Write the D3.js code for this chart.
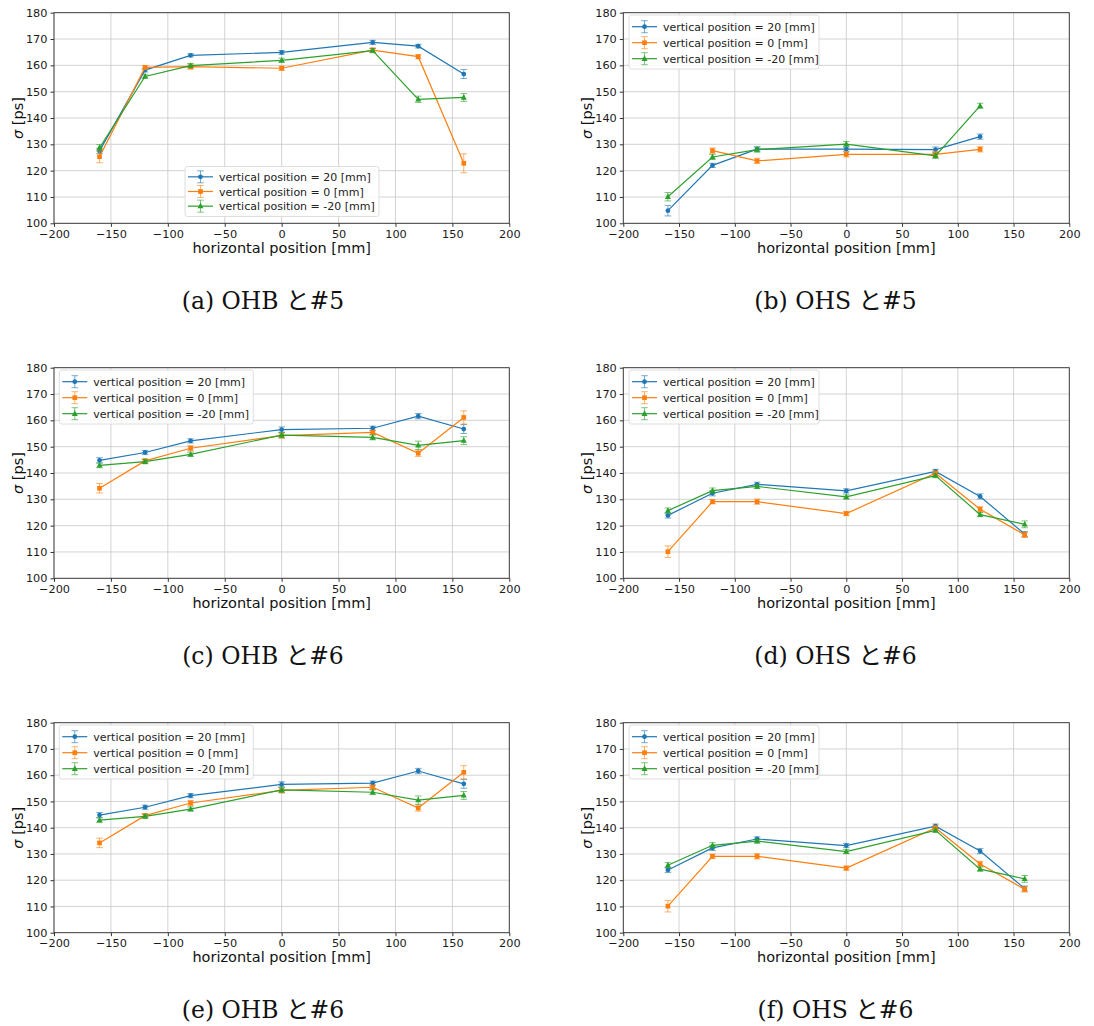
<!DOCTYPE html>
<html>
<head>
<meta charset="utf-8">
<script src="https://cdn.jsdelivr.net/npm/d3@7"></script>
<style>
  html, body { margin: 0; padding: 0; background: #fff; }
  svg { display: block; }
</style>
</head>
<body>
<script>
// Horizontal scan positions [mm]
const xPositions = [-160, -120, -80, 0, 80, 120, 160];
const xTicks = [-200, -150, -100, -50, 0, 50, 100, 150, 200];
const yTicks = [100, 110, 120, 130, 140, 150, 160, 170, 180];
const seriesNames = ["vertical position = 20 [mm]", "vertical position = 0 [mm]", "vertical position = -20 [mm]"];
const seriesColors = ["#1f77b4", "#ff7f0e", "#2ca02c"];
const seriesMarkers = ["circle", "square", "triangle"];

// (a) OHB と #5 : time resolution sigma [ps] and its error
const ohb5Up = [127.5, 158.2, 163.8, 164.9, 168.7, 167.3, 156.7];
const ohb5UpErr = [1.0, 0.7, 0.6, 0.7, 0.8, 0.7, 1.7];
const ohb5Mid = [125.3, 159.2, 159.5, 158.9, 165.8, 163.3, 122.8];
const ohb5MidErr = [2.3, 0.7, 1.0, 0.8, 0.8, 0.8, 3.6];
const ohb5Low = [128.7, 155.8, 159.9, 161.9, 165.6, 147.1, 147.8];
const ohb5LowErr = [1.2, 0.8, 0.8, 0.8, 0.8, 1.2, 1.5];

// (b) OHS と #5
const ohs5Up = [104.8, 122.0, 128.2, 128.2, 128.0, 132.9, null];
const ohs5UpErr = [2.0, 0.8, 0.8, 0.8, 1.0, 1.0, null];
const ohs5Mid = [null, 127.6, 123.7, 126.2, 126.2, 128.1, null];
const ohs5MidErr = [null, 1.0, 1.0, 1.0, 1.0, 1.0, null];
const ohs5Low = [110.1, 125.2, 128.0, 130.1, 125.6, 144.6, null];
const ohs5LowErr = [1.6, 1.0, 1.0, 1.0, 1.0, 1.0, null];

// (c), (e) OHB と #6
const ohb6Up = [144.8, 147.8, 152.2, 156.5, 157.0, 161.6, 156.7];
const ohb6UpErr = [1.0, 0.8, 0.8, 1.0, 0.8, 1.0, 1.7];
const ohb6Mid = [134.2, 144.6, 149.4, 154.2, 155.4, 147.5, 161.1];
const ohb6MidErr = [1.8, 0.8, 1.0, 1.0, 0.8, 1.2, 2.5];
const ohb6Low = [142.9, 144.3, 147.1, 154.4, 153.5, 150.5, 152.3];
const ohb6LowErr = [0.9, 0.8, 0.8, 1.0, 0.9, 1.6, 1.5];

// (d), (f) OHS と #6
const ohs6Up = [123.9, 132.3, 135.7, 133.2, 140.6, 131.1, 116.8];
const ohs6UpErr = [1.0, 1.0, 0.8, 0.8, 0.8, 1.0, 1.0];
const ohs6Mid = [110.1, 129.1, 129.1, 124.6, 139.9, 126.2, 116.5];
const ohs6MidErr = [2.2, 0.8, 1.0, 0.8, 0.8, 1.0, 1.0];
const ohs6Low = [125.7, 133.3, 134.9, 130.9, 139.0, 124.2, 120.5];
const ohs6LowErr = [1.0, 1.0, 0.8, 0.8, 0.8, 0.8, 1.3];

const captions = ["(a) OHB と#5", "(b) OHS と#5", "(c) OHB と#6", "(d) OHS と#6", "(e) OHB と#6", "(f) OHS と#6"];

const dataSets = [
  [[ohb5Up, ohb5UpErr], [ohb5Mid, ohb5MidErr], [ohb5Low, ohb5LowErr]],
  [[ohs5Up, ohs5UpErr], [ohs5Mid, ohs5MidErr], [ohs5Low, ohs5LowErr]],
  [[ohb6Up, ohb6UpErr], [ohb6Mid, ohb6MidErr], [ohb6Low, ohb6LowErr]],
  [[ohs6Up, ohs6UpErr], [ohs6Mid, ohs6MidErr], [ohs6Low, ohs6LowErr]],
  [[ohb6Up, ohb6UpErr], [ohb6Mid, ohb6MidErr], [ohb6Low, ohb6LowErr]],
  [[ohs6Up, ohs6UpErr], [ohs6Mid, ohs6MidErr], [ohs6Low, ohs6LowErr]]
];

// Panel geometry
const layouts = [
  { left: 54,    right: 509.3,  top: 12.7,  bottom: 223.3, legend: { x: 185,   y: 166.5, w: 194, h: 50 }, cap: { x: 263, y: 309 } },
  { left: 623.3, right: 1069.3, top: 12.7,  bottom: 223.3, legend: { x: 629,   y: 15,    w: 190, h: 54 }, cap: { x: 835.5, y: 309 } },
  { left: 54,    right: 509.3,  top: 367.7, bottom: 578.3, legend: { x: 59.3,  y: 370,   w: 194, h: 54 }, cap: { x: 263, y: 664 } },
  { left: 623.3, right: 1069.3, top: 367.7, bottom: 578.3, legend: { x: 629,   y: 370,   w: 190, h: 54 }, cap: { x: 835.5, y: 664 } },
  { left: 54,    right: 509.3,  top: 722.7, bottom: 932.7, legend: { x: 59.3,  y: 725,   w: 194, h: 54 }, cap: { x: 263, y: 1018 } },
  { left: 623.3, right: 1069.3, top: 722.7, bottom: 932.7, legend: { x: 629,   y: 725,   w: 190, h: 54 }, cap: { x: 835.5, y: 1018 } }
];

const W = 1094, H = 1026;
const svg = d3.select("body").append("svg").attr("width", W).attr("height", H)
  .style("font-family", "'DejaVu Sans', sans-serif");

function markerPath(type) {
  if (type === "circle") return d3.symbol(d3.symbolCircle, 18)();
  if (type === "square") return d3.symbol(d3.symbolSquare, 22)();
  return "M0,-3.4L3,2.2L-3,2.2Z";
}

const fmt = v => (v < 0 ? "\u2212" + Math.abs(v) : String(v));

layouts.forEach((L, pi) => {
  const g = svg.append("g");
  const x = d3.scaleLinear().domain([-200, 200]).range([L.left, L.right]);
  const y = d3.scaleLinear().domain([100, 180]).range([L.bottom, L.top]);

  // grid
  g.append("g").selectAll("line").data(xTicks).join("line")
    .attr("x1", d => x(d)).attr("x2", d => x(d)).attr("y1", L.top).attr("y2", L.bottom)
    .attr("stroke", "#c8c8c8").attr("stroke-width", 0.8);
  g.append("g").selectAll("line").data(yTicks).join("line")
    .attr("y1", d => y(d)).attr("y2", d => y(d)).attr("x1", L.left).attr("x2", L.right)
    .attr("stroke", "#c8c8c8").attr("stroke-width", 0.8);

  // axes
  const xAxis = d3.axisBottom(x).tickValues(xTicks).tickFormat(fmt).tickSizeOuter(0).tickSize(3.5).tickPadding(3);
  const yAxis = d3.axisLeft(y).tickValues(yTicks).tickSizeOuter(0).tickSize(3.5).tickPadding(3);
  const gx = g.append("g").attr("transform", `translate(0,${L.bottom})`).call(xAxis);
  const gy = g.append("g").attr("transform", `translate(${L.left},0)`).call(yAxis);
  [gx, gy].forEach(a => {
    a.select(".domain").remove();
    a.selectAll("text").attr("font-size", 11.3).attr("fill", "#1a1a1a").style("font-family", "'DejaVu Sans', sans-serif");
    a.selectAll("line").attr("stroke", "#333");
  });

  // frame
  g.append("rect").attr("x", L.left).attr("y", L.top)
    .attr("width", L.right - L.left).attr("height", L.bottom - L.top)
    .attr("fill", "none").attr("stroke", "#333").attr("stroke-width", 0.9);

  // axis labels
  g.append("text").attr("x", (L.left + L.right) / 2).attr("y", L.bottom + 29.5)
    .attr("text-anchor", "middle").attr("font-size", 14.5).attr("fill", "#111")
    .text("horizontal position [mm]");
  const yl = g.append("text")
    .attr("transform", `translate(${L.left - 31},${(L.top + L.bottom) / 2}) rotate(-90)`)
    .attr("text-anchor", "middle").attr("font-size", 14.5).attr("fill", "#111");
  yl.append("tspan").attr("font-style", "italic").text("σ");
  yl.append("tspan").text(" [ps]");

  // series
  dataSets[pi].forEach((s, si) => {
    const [vals, errs] = s;
    const pts = xPositions.map((xv, i) => ({ x: xv, v: vals[i], e: errs[i] })).filter(d => d.v != null);
    const col = seriesColors[si];
    const sg = g.append("g");
    const eg = sg.append("g").attr("stroke", col).attr("stroke-width", 1).attr("stroke-opacity", 0.6);
    pts.forEach(d => {
      const cx = x(d.x), y1 = y(d.v - d.e), y2 = y(d.v + d.e);
      eg.append("line").attr("x1", cx).attr("x2", cx).attr("y1", y1).attr("y2", y2);
      eg.append("line").attr("x1", cx - 3.3).attr("x2", cx + 3.3).attr("y1", y1).attr("y2", y1);
      eg.append("line").attr("x1", cx - 3.3).attr("x2", cx + 3.3).attr("y1", y2).attr("y2", y2);
    });
    sg.append("path").datum(pts)
      .attr("d", d3.line().x(d => x(d.x)).y(d => y(d.v)))
      .attr("fill", "none").attr("stroke", col).attr("stroke-width", 1.2);
    sg.selectAll("path.mk").data(pts).join("path").attr("class", "mk")
      .attr("transform", d => `translate(${x(d.x)},${y(d.v)})`)
      .attr("d", markerPath(seriesMarkers[si])).attr("fill", col);
  });

  // legend
  const lg = g.append("g").attr("transform", `translate(${L.legend.x},${L.legend.y})`);
  lg.append("rect").attr("width", L.legend.w).attr("height", L.legend.h).attr("rx", 2.5)
    .attr("fill", "#fff").attr("fill-opacity", 0.85).attr("stroke", "#d6d6d6").attr("stroke-width", 0.8);
  const rowGap = (L.legend.h - 6) / 3;
  seriesNames.forEach((name, si) => {
    const cy = 3 + rowGap * (si + 0.5) + (L.legend.h > 52 ? 0.7 : 0);
    const col = seriesColors[si];
    const row = lg.append("g").attr("transform", `translate(0,${cy})`);
    row.append("line").attr("x1", 3).attr("x2", 28).attr("y1", 0).attr("y2", 0)
      .attr("stroke", col).attr("stroke-width", 1.2);
    const eg = row.append("g").attr("stroke", col).attr("stroke-opacity", 0.6).attr("stroke-width", 1);
    eg.append("line").attr("x1", 15.5).attr("x2", 15.5).attr("y1", -6).attr("y2", 6);
    eg.append("line").attr("x1", 12.2).attr("x2", 18.8).attr("y1", -6).attr("y2", -6);
    eg.append("line").attr("x1", 12.2).attr("x2", 18.8).attr("y1", 6).attr("y2", 6);
    row.append("path").attr("transform", "translate(15.5,0)").attr("d", markerPath(seriesMarkers[si])).attr("fill", col);
    row.append("text").attr("x", 34).attr("y", 4).attr("font-size", 11).attr("fill", "#222").text(name);
  });

  // caption
  svg.append("text").attr("x", L.cap.x).attr("y", L.cap.y).attr("text-anchor", "middle")
    .attr("font-size", 23.5).attr("fill", "#111")
    .style("font-family", "'DejaVu Serif', 'Liberation Serif', 'Noto Sans CJK JP', serif")
    .text(captions[pi]);
});
</script>
</body>
</html>
